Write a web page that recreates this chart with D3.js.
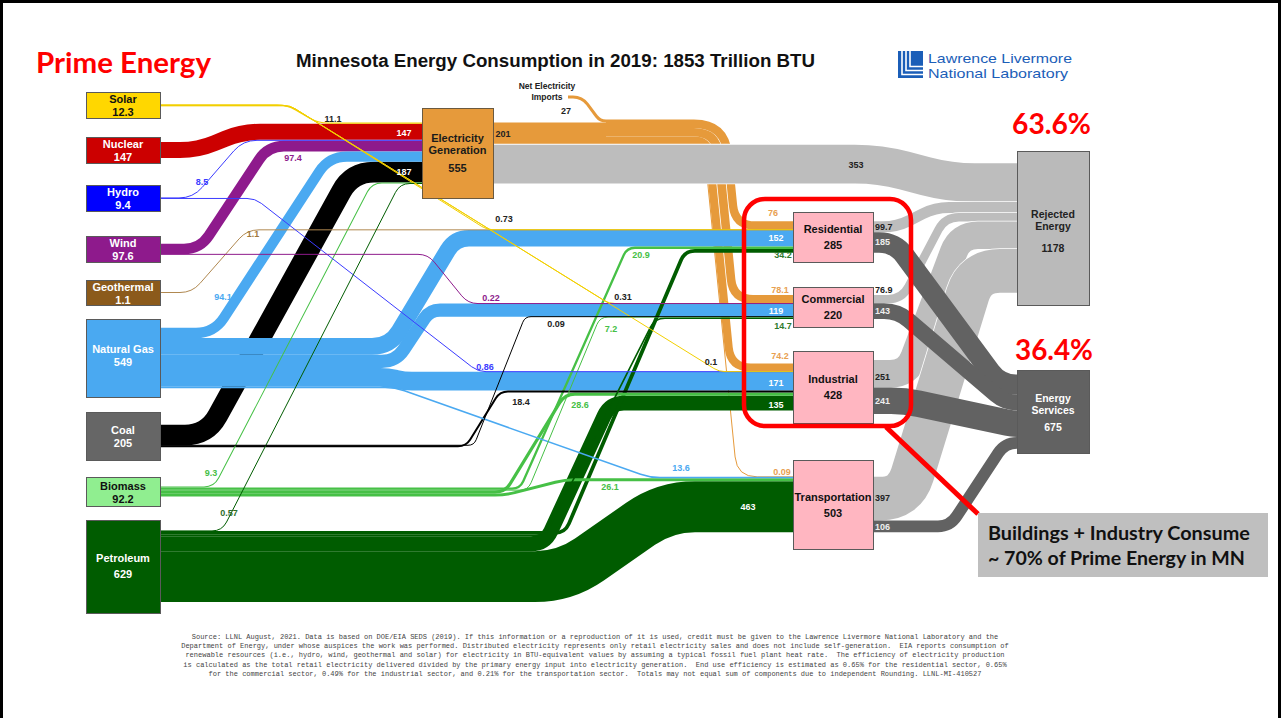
<!DOCTYPE html>
<html><head><meta charset="utf-8">
<script src="https://cdn.jsdelivr.net/npm/d3@7"></script>
<style>body{margin:0;background:#fff;}svg{display:block;}</style>
</head><body>
<svg id="c" width="1283" height="718"></svg>
<script>
// ================= DATA =================
const sourceNames  = ["Solar","Nuclear","Hydro","Wind","Geothermal","Natural Gas","Coal","Biomass","Petroleum"];
const sourceTotals = [12.3, 147, 9.4, 97.6, 1.1, 549, 205, 92.2, 629];
const hubName = "Electricity Generation";
const hubTotal = 555;
const sectorNames  = ["Residential","Commercial","Industrial","Transportation"];
const sectorTotals = [285, 220, 428, 503];
const sinkNames  = ["Rejected Energy","Energy Services"];
const sinkTotals = [1178, 675];
const netImports = 27;
const elecDelivered = 201;
const elecRejected = 353;
const toElecGen = [["Solar",11.1],["Nuclear",147],["Hydro",8.5],["Wind",97.4],["Natural Gas",94.1],["Coal",187],["Biomass",9.3],["Petroleum",0.57]];
const electricityToSector = [["Residential",76],["Commercial",78.1],["Industrial",74.2],["Transportation",0.09]];
const directUse = [
  ["Solar","Residential",0.73],["Solar","Commercial",0.31],["Solar","Industrial",0.1],
  ["Hydro","Industrial",0.86],["Wind","Commercial",0.22],["Geothermal","Residential",1.1],
  ["Natural Gas","Residential",152],["Natural Gas","Commercial",119],["Natural Gas","Industrial",171],["Natural Gas","Transportation",13.6],
  ["Coal","Commercial",0.09],["Coal","Industrial",18.4],
  ["Biomass","Residential",20.9],["Biomass","Commercial",7.2],["Biomass","Industrial",28.6],["Biomass","Transportation",26.1],
  ["Petroleum","Residential",34.2],["Petroleum","Commercial",14.7],["Petroleum","Industrial",135],["Petroleum","Transportation",463]
];
const sectorRejected = [99.7, 76.9, 251, 397];
const sectorServices = [185, 143, 241, 106];
const annotationPercents = ["63.6%","36.4%"];
const footerLines = [
"Source: LLNL August, 2021. Data is based on DOE/EIA SEDS (2019). If this information or a reproduction of it is used, credit must be given to the Lawrence Livermore National Laboratory and the",
"Department of Energy, under whose auspices the work was performed. Distributed electricity represents only retail electricity sales and does not include self-generation.  EIA reports consumption of",
"renewable resources (i.e., hydro, wind, geothermal and solar) for electricity in BTU-equivalent values by assuming a typical fossil fuel plant heat rate.  The efficiency of electricity production",
"is calculated as the total retail electricity delivered divided by the primary energy input into electricity generation.  End use efficiency is estimated as 0.65% for the residential sector, 0.65%",
"for the commercial sector, 0.49% for the industrial sector, and 0.21% for the transportation sector.  Totals may not equal sum of components due to independent Rounding. LLNL-MI-410527"
];

// ================= LAYOUT / STYLE =================
const FONT = "'Liberation Sans', Arial, sans-serif";
const k = d3.scaleLinear().domain([0, 100]).range([0, 11]);          // flow thickness
const colX = d3.scaleOrdinal().domain(["source","hub","sector","sink"]).range([86, 422, 793, 1017]);
const boxes = { // [column, top, width, height]
  "Solar":["source",92,74,26], "Nuclear":["source",137,74,26], "Hydro":["source",185,74,26],
  "Wind":["source",236,74,26], "Geothermal":["source",280,74,25], "Natural Gas":["source",319,74,78],
  "Coal":["source",412,74,48], "Biomass":["source",477,74,29], "Petroleum":["source",520,74,93],
  "Electricity Generation":["hub",108,71,90],
  "Residential":["sector",212,80,50], "Commercial":["sector",287,80,40],
  "Industrial":["sector",351,80,72], "Transportation":["sector",460,80,89],
  "Rejected Energy":["sink",151,72,154], "Energy Services":["sink",370,72,83]
};
const boxFill = {"Solar":"#ffd700","Nuclear":"#cc0000","Hydro":"#0000ff","Wind":"#8e1a8c","Geothermal":"#8b5a1b",
  "Natural Gas":"#4aa9f1","Coal":"#666666","Biomass":"#90ee90","Petroleum":"#005c00",
  "Electricity Generation":"#e69a3b","Residential":"#ffb6c1","Commercial":"#ffb6c1","Industrial":"#ffb6c1",
  "Transportation":"#ffb6c1","Rejected Energy":"#bababa","Energy Services":"#626262"};
const boxText = {"Solar":"#111","Biomass":"#111","Electricity Generation":"#1a1a1a","Residential":"#111","Commercial":"#111",
  "Industrial":"#111","Transportation":"#111","Rejected Energy":"#222"};
const flowColor = {"Solar":"#f2cf00","Nuclear":"#cc0000","Hydro":"#3b3bff","Wind":"#8e1a8c","Geothermal":"#b08850",
  "Natural Gas":"#4aa9f1","Coal":"#000000","Biomass":"#46c046","Petroleum":"#005c00"};
const elecColor = "#e69a3b", rejColor = "#bdbdbd", svcColor = "#626262";
const labelLines = {"Electricity Generation":["Electricity","Generation"],"Rejected Energy":["Rejected","Energy"],"Energy Services":["Energy","Services"]};
const labelOffsets = {source:[-2,11], hub:[-11,1,19], sector:[-4,12], "Natural Gas":[-5,8], "Petroleum":[-5,11],
  "Rejected Energy":[-10,2,24], "Energy Services":[-9.5,2.5,19.5]};
const importAnchor = [568, 97];
const gridX = 606;
const routes = { // [bendStartX, bendEndX, r1, r2]
  "Solar>Electricity Generation":[287,318,10,10], "Nuclear>Electricity Generation":[198,242,18,18],
  "Hydro>Electricity Generation":[193,243,14,14], "Wind>Electricity Generation":[200,268,16,16],
  "Natural Gas>Electricity Generation":[214,329,18,18], "Coal>Electricity Generation":[207,352,22,22],
  "Biomass>Electricity Generation":[214,372,10,10], "Petroleum>Electricity Generation":[222,400,10,10],
  "Net Electricity Imports>Grid":[582,600,9,9],
  "Electricity Generation>Rejected Energy":[880,950,25,25],
  "Solar>Residential":[290,487,6,6], "Solar>Commercial":[290,609,6,6], "Solar>Industrial":[290,719,6,6],
  "Hydro>Industrial":[255,478,8,8], "Wind>Commercial":[428,468,10,10], "Geothermal>Residential":[192,247,12,12],
  "Natural Gas>Residential":[390,455,18,14], "Natural Gas>Commercial":[396,430,14,10],
  "Natural Gas>Industrial":[388,404,8,8], "Natural Gas>Transportation":[395,650,10,10],
  "Coal>Commercial":[474,525,6,6], "Coal>Industrial":[466,500,8,8],
  "Biomass>Residential":[520,627,8,8], "Biomass>Commercial":[528,600,8,8],
  "Biomass>Industrial":[505,565,10,10], "Biomass>Transportation":[505,565,10,10],
  "Petroleum>Residential":[565,685,10,10], "Petroleum>Commercial":[545,655,10,10],
  "Petroleum>Industrial":[545,610,14,14], "Petroleum>Transportation":[565,665,30,30],
  "Residential>Rejected Energy":[897,935,14,14], "Commercial>Rejected Energy":[902,945,14,14],
  "Industrial>Rejected Energy":[908,960,18,18], "Transportation>Rejected Energy":[905,975,25,25],
  "Residential>Energy Services":[895,1000,16,16], "Commercial>Energy Services":[898,1005,14,14],
  "Industrial>Energy Services":[905,1012,14,14], "Transportation>Energy Services":[950,1005,12,12]
};
const flowLabels = { // [x, y, color, anchor]
  "Solar>Electricity Generation":[333,119,"#222"], "Nuclear>Electricity Generation":[404,133,"#fff"],
  "Hydro>Electricity Generation":[202,182,"#3b3bff"], "Wind>Electricity Generation":[293,158,"#8e1a8c"],
  "Natural Gas>Electricity Generation":[223,297,"#4aa9f1"], "Coal>Electricity Generation":[404,172,"#fff"],
  "Biomass>Electricity Generation":[211,473,"#46c046"], "Petroleum>Electricity Generation":[229,513,"#2d6e2d"],
  "Electricity Generation>Grid":[503,134,"#222"], "Net Electricity Imports>Grid":[566,111,"#222"],
  "Electricity Generation>Rejected Energy":[856,165,"#222"],
  "Solar>Residential":[504,219,"#222"], "Geothermal>Residential":[253,234,"#a0783c"],
  "Wind>Commercial":[491,298,"#8e1a8c"], "Solar>Commercial":[623,297,"#222"], "Coal>Commercial":[556,324,"#222"],
  "Hydro>Industrial":[485,367,"#3b3bff"], "Coal>Industrial":[521,402,"#222"], "Solar>Industrial":[711,362,"#222"],
  "Biomass>Residential":[641,255,"#46c046"], "Biomass>Commercial":[611,329,"#46c046"],
  "Biomass>Industrial":[580,405,"#46c046"], "Biomass>Transportation":[610,487,"#46c046"],
  "Natural Gas>Transportation":[681,468,"#4aa9f1"], "Petroleum>Transportation":[748,507,"#fff"],
  "Grid>Residential":[773,213,"#e8a050"], "Natural Gas>Residential":[776,238,"#fff"], "Petroleum>Residential":[783,255,"#2d7a2d"],
  "Grid>Commercial":[780,290,"#e8a050"], "Natural Gas>Commercial":[776,311,"#fff"], "Petroleum>Commercial":[783,326,"#2d7a2d"],
  "Grid>Industrial":[780,356,"#e8a050"], "Natural Gas>Industrial":[776,383,"#fff"], "Petroleum>Industrial":[776,405,"#fff"],
  "Grid>Transportation":[782,472,"#e8a050"],
  "Residential>Rejected Energy":[875,227,"#222","start"], "Residential>Energy Services":[875,242,"#eee","start"],
  "Commercial>Rejected Energy":[875,290,"#222","start"], "Commercial>Energy Services":[875,311,"#eee","start"],
  "Industrial>Rejected Energy":[875,377,"#222","start"], "Industrial>Energy Services":[875,401,"#eee","start"],
  "Transportation>Rejected Energy":[875,498,"#222","start"], "Transportation>Energy Services":[875,527,"#eee","start"]
};

// ================= BUILD FLOWS =================
const flows = [];
function add(s,t,v,color,kind){ flows.push({s,t,v,color,kind,id:s+">"+t,w:k(v)}); }
toElecGen.forEach(([s,v]) => add(s, hubName, v, flowColor[s], "src"));
add("Net Electricity Imports","Grid",netImports,elecColor,"elec");
add(hubName,"Grid",elecDelivered,elecColor,"elec");
add(hubName,"Rejected Energy",elecRejected,rejColor,"rej");
electricityToSector.forEach(([t,v]) => add("Grid", t, v, elecColor, "elec"));
directUse.forEach(([s,t,v]) => add(s, t, v, flowColor[s], "src"));
sectorNames.forEach((n,i) => add(n,"Rejected Energy",sectorRejected[i],rejColor,"rej"));
sectorNames.forEach((n,i) => add(n,"Energy Services",sectorServices[i],svcColor,"svc"));

const nodeGeo = {};
Object.entries(boxes).forEach(([n,[col,y,w,h]]) => {
  const x = colX(col);
  nodeGeo[n] = {x, y, w, h, xIn:x, xOut:x+w, cy:y+h/2};
});
const outTot = {}, inTot = {};
flows.forEach(f => { outTot[f.s]=(outTot[f.s]||0)+f.w; inTot[f.t]=(inTot[f.t]||0)+f.w; });
const outCur = {}, inCur = {};
Object.keys(nodeGeo).forEach(n => {
  outCur[n] = nodeGeo[n].cy - (outTot[n]||0)/2;
  inCur[n]  = nodeGeo[n].cy - (inTot[n]||0)/2;
});
const gridBottom = outCur[hubName] + k(elecDelivered);
const gridTop = gridBottom - inTot["Grid"];
inCur["Grid"] = gridTop; outCur["Grid"] = gridTop;
nodeGeo["Grid"] = {xIn:gridX, xOut:gridX};
nodeGeo["Net Electricity Imports"] = {xOut:importAnchor[0]};
outCur["Net Electricity Imports"] = importAnchor[1] - k(netImports)/2;
flows.forEach(f => {
  f.y0 = outCur[f.s] + f.w/2; outCur[f.s] += f.w;
  f.y1 = inCur[f.t] + f.w/2;  inCur[f.t] += f.w;
  f.x0 = nodeGeo[f.s].xOut; f.x1 = nodeGeo[f.t].xIn;
});

function routePath(f){
  const {x0,y0,x1,y1} = f;
  let r = routes[f.id];
  if (f.s === "Grid") {                       // electricity bundle turning down
    const off = f.y0 - gridTop;
    const xa = 729 - off;
    r = [xa, xa + 0.1*(f.y1 - f.y0), 10 + (gridBottom - f.y0), 20];
  }
  if (!r || Math.abs(y1-y0) < 0.2) return `M${x0},${y0}L${x1},${y1}`;
  const [xa,xb,r1,r2] = r;
  const dx = xb-xa, dy = y1-y0, L = Math.hypot(dx,dy), ux = dx/L, uy = dy/L;
  const a = Math.min(r1, xa-x0, L/2), b = Math.min(r2, x1-xb, L/2);
  return `M${x0},${y0}L${xa-a},${y0}Q${xa},${y0} ${xa+ux*a},${y0+uy*a}` +
         `L${xb-ux*b},${y1-uy*b}Q${xb},${y1} ${xb+b},${y1}L${x1},${y1}`;
}

// ================= DRAW =================
const svg = d3.select("#c");
svg.append("rect").attr("x",1.5).attr("y",1.5).attr("width",1278).attr("height",740)
  .attr("fill","#fff").attr("stroke","#000").attr("stroke-width",3);

const gFlows = svg.append("g").attr("fill","none");
const drawOrder = [
  ...flows.filter(f=>f.kind==="elec"),
  ...flows.filter(f=>f.kind==="rej"),
  ...flows.filter(f=>f.kind==="svc"),
  ...flows.filter(f=>f.kind==="src").sort((a,b)=>b.v-a.v)
];
drawOrder.forEach(f => {
  const d = routePath(f);
  const sw = Math.max(f.w, 1);
  if (f.kind === "rej") gFlows.append("path").attr("d",d).attr("stroke","#fff").attr("stroke-width",sw+1.6);
  gFlows.append("path").attr("d",d).attr("stroke",f.color).attr("stroke-width",sw);
});

// nodes
const gNodes = svg.append("g");
Object.entries(nodeGeo).forEach(([n,g]) => {
  if (!boxes[n]) return;
  gNodes.append("rect").attr("x",g.x+0.5).attr("y",g.y+0.5).attr("width",g.w).attr("height",g.h)
    .attr("fill",boxFill[n]).attr("stroke", n==="Electricity Generation" ? "#6b5a40" : "#5a5a5a").attr("stroke-width",1);
  const col = boxes[n][0];
  const lines = (labelLines[n] || [n]).concat([String(
    sourceNames.includes(n) ? sourceTotals[sourceNames.indexOf(n)] :
    sectorNames.includes(n) ? sectorTotals[sectorNames.indexOf(n)] :
    sinkNames.includes(n) ? sinkTotals[sinkNames.indexOf(n)] : hubTotal)]);
  const offs = labelOffsets[n] || labelOffsets[col];
  lines.forEach((t,i) => {
    gNodes.append("text").attr("x", g.x + g.w/2).attr("y", g.cy + offs[i])
      .attr("text-anchor","middle").attr("font-family",FONT).attr("font-weight","bold")
      .attr("font-size", (col==="sink") ? 10.5 : 11).attr("fill", boxText[n] || "#fff").text(t);
  });
});

// flow labels
const gLab = svg.append("g").attr("font-family",FONT).attr("font-weight","bold").attr("font-size",9);
flows.forEach(f => {
  const L = flowLabels[f.id]; if (!L) return;
  gLab.append("text").attr("x",L[0]).attr("y",L[1]).attr("dy","0.35em")
    .attr("text-anchor",L[3]||"middle").attr("fill",L[2]).text(String(f.v));
});
// imports label
svg.append("g").attr("font-family",FONT).attr("font-weight","bold").attr("font-size",8.5).attr("fill","#222")
  .selectAll("text").data(["Net Electricity","Imports"]).join("text")
  .attr("x",547).attr("y",(d,i)=>89+i*11).attr("text-anchor","middle").text(d=>d);

function fit(sel, width){
  const cur = sel.node().getComputedTextLength();
  sel.attr("font-size", parseFloat(sel.attr("font-size")) * width / cur);
  return sel;
}
// title
fit(svg.append("text").attr("x",555.5).attr("y",67).attr("text-anchor","middle").attr("font-family",FONT)
  .attr("font-weight","bold").attr("font-size",18.7).attr("fill","#111")
  .text("Minnesota Energy Consumption in 2019: 1853 Trillion BTU"), 519);

// Prime Energy
const CAL = "Lato, 'Open Sans', sans-serif";
fit(svg.append("text").attr("x",36).attr("y",73).attr("font-family",CAL).attr("font-weight","bold")
  .attr("font-size",27).attr("fill","#ff0000").text("Prime Energy"), 175);

// percentages
fit(svg.append("text").attr("x",1012).attr("y",134).attr("font-family",CAL).attr("font-weight","bold")
  .attr("font-size",28).attr("fill","#ff0000").text(annotationPercents[0]), 79);
fit(svg.append("text").attr("x",1015).attr("y",360).attr("font-family",CAL).attr("font-weight","bold")
  .attr("font-size",28).attr("fill","#ff0000").text(annotationPercents[1]), 78);

// LLNL logo
const logo = svg.append("g");
logo.append("rect").attr("x",898).attr("y",51).attr("width",25).attr("height",27).attr("fill","#1b5eb8");
[[902,74.5],[906,70.5],[910,66.5]].forEach(([x,y]) => {
  logo.append("path").attr("d",`M${x},50V${y}H924`).attr("fill","none").attr("stroke","#fff").attr("stroke-width",1.6);
});
logo.append("text").attr("x",928).attr("y",62.5).attr("font-family",FONT).attr("font-size",13.5).attr("fill","#1b5eb8")
  .attr("textLength",144).attr("lengthAdjust","spacingAndGlyphs").text("Lawrence Livermore");
logo.append("text").attr("x",928).attr("y",78).attr("font-family",FONT).attr("font-size",13.5).attr("fill","#1b5eb8")
  .attr("textLength",140).attr("lengthAdjust","spacingAndGlyphs").text("National Laboratory");

// footer
svg.append("g").attr("font-family","'Liberation Mono', monospace").attr("font-size",7).attr("fill","#444")
  .selectAll("text").data(footerLines).join("text")
  .attr("x",595).attr("y",(d,i)=>639+i*9.2).attr("text-anchor","middle")
  .attr("xml:space","preserve").style("white-space","pre").text(d=>d);

// red highlight
svg.append("rect").attr("x",744).attr("y",199).attr("width",167).attr("height",227).attr("rx",21)
  .attr("fill","none").attr("stroke","#ff0000").attr("stroke-width",4.5);
svg.append("line").attr("x1",886).attr("y1",427).attr("x2",978).attr("y2",514)
  .attr("stroke","#ff0000").attr("stroke-width",5);
svg.append("rect").attr("x",978).attr("y",513).attr("width",290).attr("height",64).attr("fill","#bfbfbf");
fit(svg.append("text").attr("x",988).attr("y",540).attr("font-family",CAL).attr("font-weight","bold")
  .attr("font-size",17).attr("fill","#111").text("Buildings + Industry Consume"), 262);
fit(svg.append("text").attr("x",988).attr("y",565).attr("font-family",CAL).attr("font-weight","bold")
  .attr("font-size",17).attr("fill","#111").text("~ 70% of Prime Energy in MN"), 257);
</script>
</body></html>
